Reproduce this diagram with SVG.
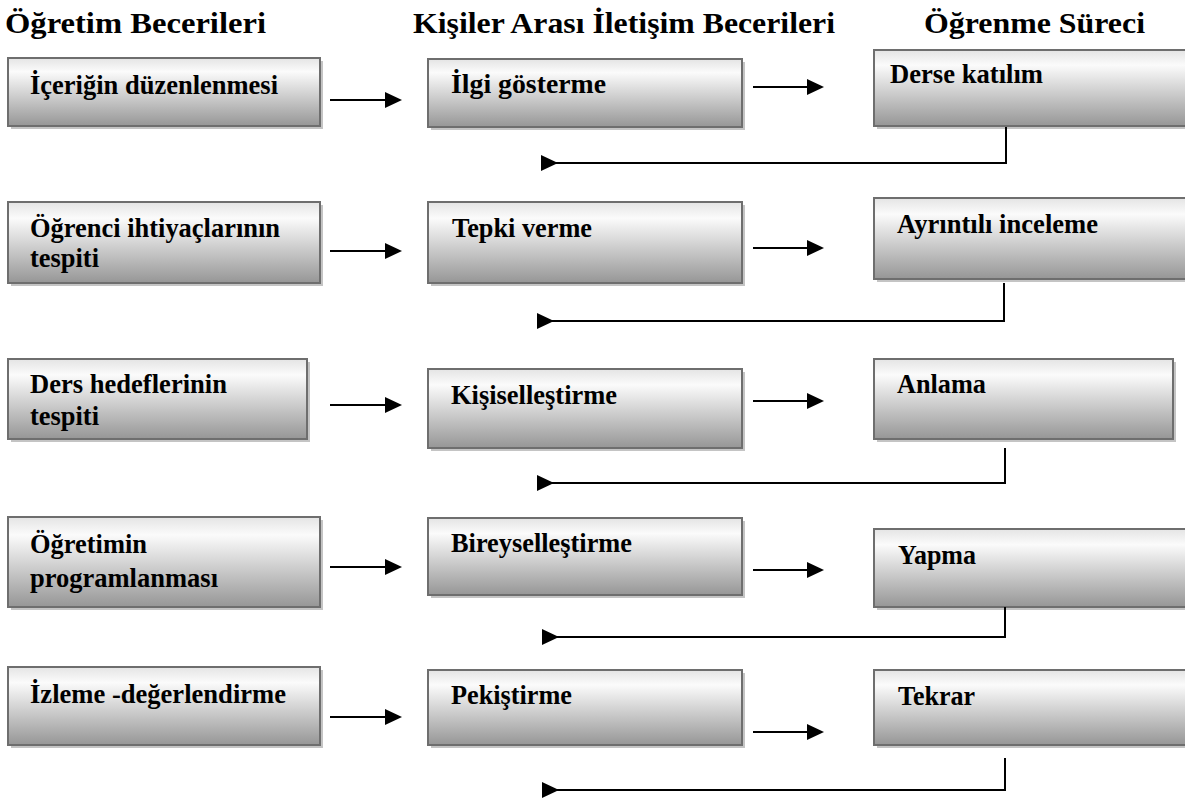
<svg xmlns="http://www.w3.org/2000/svg" width="1185" height="800" viewBox="0 0 1185 800">
<defs>
<linearGradient id="g" x1="0" y1="0" x2="0" y2="1">
<stop offset="0" stop-color="#e4e4e4"/>
<stop offset="0.2" stop-color="#fbfbfb"/>
<stop offset="1" stop-color="#969696"/>
</linearGradient>
<style>
.box{fill:url(#g);stroke:#6e6e6e;stroke-width:2}
.sh{fill:#c4c4c4}
.t{font-family:"Liberation Serif","Times New Roman",serif;font-weight:bold;font-size:27px;fill:#000}
.h{font-family:"Liberation Serif","Times New Roman",serif;font-weight:bold;font-size:30px;fill:#000}
.ln{stroke:#000;stroke-width:2;fill:none}
.ah{fill:#000}
</style>
</defs>
<rect width="1185" height="800" fill="#fff"/>
<g id="headings">
<text class="h" x="5" y="33" textLength="261" lengthAdjust="spacingAndGlyphs">Öğretim Becerileri</text>
<text class="h" x="413" y="33" textLength="422" lengthAdjust="spacingAndGlyphs">Kişiler Arası İletişim Becerileri</text>
<text class="h" x="924" y="33" textLength="221" lengthAdjust="spacingAndGlyphs">Öğrenme Süreci</text>
</g>
<!-- column 1 -->
<g id="n11"><rect class="sh" x="11" y="61" width="312" height="68"/><rect class="box" x="8" y="58" width="312" height="68"/><text class="t" x="30" y="94" textLength="248" lengthAdjust="spacingAndGlyphs">İçeriğin düzenlenmesi</text></g>
<g id="n21"><rect class="sh" x="11" y="205" width="312" height="81"/><rect class="box" x="8" y="202" width="312" height="81"/><text class="t" x="30" y="237" textLength="250" lengthAdjust="spacingAndGlyphs">Öğrenci ihtiyaçlarının</text><text class="t" x="30" y="267" textLength="69" lengthAdjust="spacingAndGlyphs">tespiti</text></g>
<g id="n31"><rect class="sh" x="11" y="362" width="299" height="80"/><rect class="box" x="8" y="359" width="299" height="80"/><text class="t" x="30" y="393" textLength="197" lengthAdjust="spacingAndGlyphs">Ders hedeflerinin</text><text class="t" x="30" y="425" textLength="69" lengthAdjust="spacingAndGlyphs">tespiti</text></g>
<g id="n41"><rect class="sh" x="11" y="520" width="312" height="90"/><rect class="box" x="8" y="517" width="312" height="90"/><text class="t" x="30" y="553" textLength="117" lengthAdjust="spacingAndGlyphs">Öğretimin</text><text class="t" x="30" y="587" textLength="188" lengthAdjust="spacingAndGlyphs">programlanması</text></g>
<g id="n51"><rect class="sh" x="11" y="670" width="312" height="78"/><rect class="box" x="8" y="667" width="312" height="78"/><text class="t" x="30" y="703" textLength="256" lengthAdjust="spacingAndGlyphs">İzleme -değerlendirme</text></g>
<!-- column 2 -->
<g id="n12"><rect class="sh" x="431" y="62" width="314" height="68"/><rect class="box" x="428" y="59" width="314" height="68"/><text class="t" x="451" y="93" textLength="155" lengthAdjust="spacingAndGlyphs">İlgi gösterme</text></g>
<g id="n22"><rect class="sh" x="431" y="205" width="314" height="81"/><rect class="box" x="428" y="202" width="314" height="81"/><text class="t" x="452" y="237" textLength="140" lengthAdjust="spacingAndGlyphs">Tepki verme</text></g>
<g id="n32"><rect class="sh" x="431" y="372" width="314" height="79"/><rect class="box" x="428" y="369" width="314" height="79"/><text class="t" x="451" y="404" textLength="166" lengthAdjust="spacingAndGlyphs">Kişiselleştirme</text></g>
<g id="n42"><rect class="sh" x="431" y="521" width="314" height="77"/><rect class="box" x="428" y="518" width="314" height="77"/><text class="t" x="451" y="552" textLength="181" lengthAdjust="spacingAndGlyphs">Bireyselleştirme</text></g>
<g id="n52"><rect class="sh" x="431" y="673" width="314" height="75"/><rect class="box" x="428" y="670" width="314" height="75"/><text class="t" x="451" y="704" textLength="121" lengthAdjust="spacingAndGlyphs">Pekiştirme</text></g>
<!-- column 3 -->
<g id="n13"><rect class="sh" x="877" y="53" width="320" height="76"/><rect class="box" x="874" y="50" width="320" height="76"/><text class="t" x="890" y="83" textLength="153" lengthAdjust="spacingAndGlyphs">Derse katılım</text></g>
<g id="n23"><rect class="sh" x="877" y="201" width="320" height="81"/><rect class="box" x="874" y="198" width="320" height="81"/><text class="t" x="897" y="233" textLength="201" lengthAdjust="spacingAndGlyphs">Ayrıntılı inceleme</text></g>
<g id="n33"><rect class="sh" x="877" y="362" width="299" height="80"/><rect class="box" x="874" y="359" width="299" height="80"/><text class="t" x="897" y="393" textLength="89" lengthAdjust="spacingAndGlyphs">Anlama</text></g>
<g id="n43"><rect class="sh" x="877" y="532" width="320" height="78"/><rect class="box" x="874" y="529" width="320" height="78"/><text class="t" x="898" y="564" textLength="78" lengthAdjust="spacingAndGlyphs">Yapma</text></g>
<g id="n53"><rect class="sh" x="877" y="673" width="320" height="75"/><rect class="box" x="874" y="670" width="320" height="75"/><text class="t" x="898" y="705" textLength="77" lengthAdjust="spacingAndGlyphs">Tekrar</text></g>
<g id="connectors">
<!-- col1 -> col2 -->
<line class="ln" x1="330" y1="100" x2="386" y2="100"/><polygon class="ah" points="385,92 402,100 385,108"/>
<line class="ln" x1="330" y1="251" x2="386" y2="251"/><polygon class="ah" points="385,243 402,251 385,259"/>
<line class="ln" x1="330" y1="405" x2="386" y2="405"/><polygon class="ah" points="385,397 402,405 385,413"/>
<line class="ln" x1="330" y1="567" x2="386" y2="567"/><polygon class="ah" points="385,559 402,567 385,575"/>
<line class="ln" x1="330" y1="717" x2="386" y2="717"/><polygon class="ah" points="385,709 402,717 385,725"/>
<!-- col2 -> col3 -->
<line class="ln" x1="753" y1="87" x2="808" y2="87"/><polygon class="ah" points="807,79 824,87 807,95"/>
<line class="ln" x1="753" y1="248" x2="808" y2="248"/><polygon class="ah" points="807,240 824,248 807,256"/>
<line class="ln" x1="753" y1="401" x2="808" y2="401"/><polygon class="ah" points="807,393 824,401 807,409"/>
<line class="ln" x1="753" y1="570" x2="808" y2="570"/><polygon class="ah" points="807,562 824,570 807,578"/>
<line class="ln" x1="753" y1="732" x2="808" y2="732"/><polygon class="ah" points="807,724 824,732 807,740"/>
<!-- returns -->
<polyline class="ln" points="1006,127 1006,163 556,163"/><polygon class="ah" points="541,155 558,163 541,171"/>
<polyline class="ln" points="1004,283 1004,321 552,321"/><polygon class="ah" points="537,313 554,321 537,329"/>
<polyline class="ln" points="1005,448 1005,483 552,483"/><polygon class="ah" points="537,475 554,483 537,491"/>
<polyline class="ln" points="1005,607 1005,637 557,637"/><polygon class="ah" points="542,629 559,637 542,645"/>
<polyline class="ln" points="1005,758 1005,790 557,790"/><polygon class="ah" points="542,782 559,790 542,798"/>
</g>
</svg>
